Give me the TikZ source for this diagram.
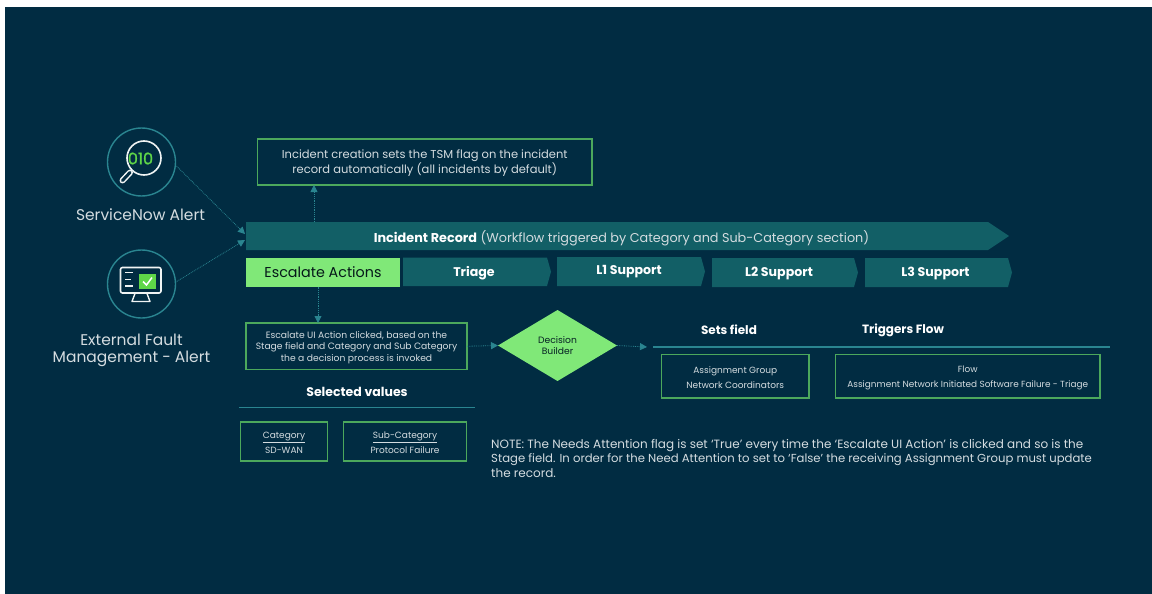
\documentclass[tikz,border=0pt]{standalone}
\usepackage{fontspec}
\setmainfont{Poppins}
\newfontfamily\binfont[FakeBold=1.2]{Poppins}
\usetikzlibrary{arrows.meta,calc,shapes.geometric}
\definecolor{bgdark}{HTML}{012C42}
\definecolor{tealfill}{HTML}{125F66}
\definecolor{tealline}{HTML}{2A8590}
\definecolor{limefill}{HTML}{80E878}
\definecolor{boxline}{HTML}{4CA85C}
\definecolor{txt}{HTML}{D4DCE0}
\definecolor{iconw}{HTML}{F0F4F4}
\definecolor{icong}{HTML}{5FD648}
\newcommand{\fsz}[2]{\fontsize{#1}{#2}\selectfont}
\newcommand{\chev}[8]{%
  \fill[tealfill] (#2,#4) -- (#3-#6,#4) -- (#3,{(#4+#5)/2}) -- (#3-#6,#5) -- (#2,#5) -- cycle;
  \node[boxnode,minimum width=#3-#2,minimum height=#5-#4,font=#7] (#1) at ({(#2+#3)/2},{(#4+#5)/2}) {#8};}
\newcommand{\gbox}[8]{%
  \node[boxnode,draw=boxline,line width=1.1pt,minimum width=#3-#2,minimum height=#5-#4,
    label={[boxtext,font=\fsz{#6}{#7}]center:{#8}}] (#1) at ({(#2+#3)/2},{(#4+#5)/2}) {};}
\tikzset{
  boxnode/.style={inner sep=0pt,outer sep=0pt,text=white},
  boxtext/.style={text=txt,align=center,inner sep=0pt,yshift=-1.2pt},
  link/.style={draw=tealline,line width=0.8pt,densely dotted,-{Triangle[width=7pt,length=7pt,fill=tealline]}},
  ring/.style={circle,draw=tealline,line width=1.4pt,minimum size=68pt,inner sep=0pt,outer sep=0pt},
  rule/.style={draw=tealline,line width=1.1pt},
  headtext/.style={text=white,font=\fsz{12}{14}\bfseries}
}
\begin{document}
\begin{tikzpicture}[x=1pt,y=-1pt]
\useasboundingbox (0,0) rectangle (1152,594);
\fill[white] (0,0) rectangle (1152,594);
\fill[bgdark] (5,7) rectangle (1152,594);

% left icons
\node[ring] (alert) at (141.5,162) {};
\node[ring] (fault) at (141.5,284) {};
\draw[iconw,line width=1.6pt] (144,158) circle (17);
\draw[iconw,line width=6pt,line cap=round] (130,172.5) -- (122.5,180.5);
\draw[bgdark,line width=3pt,line cap=round] (130,172.5) -- (122.5,180.5);
\node[text=icong,inner sep=0pt,font=\fsz{16}{16}\binfont] (bin) at (140.5,158.5) {010};
\draw[iconw,line width=1.6pt,rounded corners=2pt] (120.5,267.5) rectangle (161,293);
\fill[icong] (138.5,273.5) rectangle (156,289);
\draw[white,line width=1.5pt] (143,281.5) -- (146.5,285) -- (152,277.5);
\draw[iconw,line width=1.3pt] (125,272.5) -- (133,272.5) (125,279.5) -- (131,279.5) (125,286) -- (133,286);
\draw[iconw,line width=1.4pt,line join=round] (135,293.5) -- (132,301.5) -- (150,301.5) -- (147,293.5);
\node[text=txt,inner sep=0pt,font=\fsz{15.5}{17}] (alertlab) at (140.5,214.8) {ServiceNow Alert};
\node[text=txt,inner sep=0pt,align=center,font=\fsz{15.5}{17.5}] (faultlab) at (131.5,350.3) {External Fault\\Management - Alert};

% bars
\chev{record}{246}{1009}{222}{250}{21}{\fsz{12.8}{14}}{\hspace*{-12pt}\raisebox{-6pt}[0pt][0pt]{\textcolor{txt}{\textbf{\textcolor{white}{Incident Record}} (Workflow triggered by Category and Sub-Category section)}}}
\node[boxnode,fill=limefill,text=black!75!tealfill,minimum width=154pt,minimum height=29pt,font=\fsz{14.3}{16}] (esc) at (323,272) {Escalate Actions};
\chev{triage}{403}{551}{257.5}{286}{4}{\fsz{12.6}{14}\bfseries}{\hspace*{-6pt}\raisebox{-4.5pt}[0pt][0pt]{Triage}}
\chev{lone}{557}{705}{257}{286}{4}{\fsz{12.6}{14}\bfseries}{\hspace*{-4pt}\raisebox{-3pt}[0pt][0pt]{L1 Support}}
\chev{ltwo}{712}{858}{258}{287}{4}{\fsz{12.6}{14}\bfseries}{\hspace*{-12pt}\raisebox{-4pt}[0pt][0pt]{L2 Support}}
\chev{lthree}{865}{1012}{258}{287}{4}{\fsz{12.6}{14}\bfseries}{\hspace*{-6pt}\raisebox{-4pt}[0pt][0pt]{L3 Support}}

% boxes
\gbox{top}{257.5}{592}{139}{185}{11.5}{15}{Incident creation sets the TSM flag on the incident\\record automatically (all incidents by default)}
\gbox{ui}{246}{467}{323}{369.5}{9.2}{11.5}{Escalate UI Action clicked, based on the\\Stage field and Category and Sub Category\\the a decision process is invoked}
\node[diamond,fill=limefill,inner sep=0pt,outer sep=0pt,minimum width=119pt,minimum height=71pt,text=black!65!tealfill,align=center,font=\fsz{9.2}{11}] (dec) at (557.5,345.5) {Decision\\Builder};
\gbox{cat}{240.5}{327.5}{422}{461}{9}{15}{\underline{Category}\\SD-WAN}
\gbox{sub}{343.5}{466.5}{422}{461}{9}{15}{\underline{Sub-Category}\\Protocol Failure}
\gbox{grp}{661.5}{809}{354.5}{398}{9}{15}{Assignment Group\\Network Coordinators}
\gbox{flow}{835.5}{1100}{354.5}{398}{8.9}{15}{Flow\\Assignment Network Initiated Software Failure - Triage}

% headings
\node[headtext,inner sep=0pt,font=\fsz{12.5}{14}\bfseries] (selhead) at (357,392) {Selected values};
\coordinate (sell) at (239,407.5);
\coordinate (selr) at (475,407.5);
\draw[rule] (sell) -- (selr);
\node[headtext,inner sep=0pt] (setshead) at (729,330) {Sets field};
\node[headtext,inner sep=0pt] (trighead) at (903,330) {Triggers Flow};
\coordinate (setl) at (653,347);
\coordinate (setr) at (1110,347);
\draw[rule] (setl) -- (setr);

% note
\node[text=txt,anchor=north west,inner sep=0pt,align=left,font=\fsz{12}{14.5}] (note) at (491,439) {NOTE: The Needs Attention flag is set ‘True’ every time the ‘Escalate UI Action’ is clicked and so is the\\\fsz{11.65}{14.5}Stage field. In order for the Need Attention to set to ‘False’ the receiving Assignment Group must update\\the record.};

% connectors
\coordinate (recup) at ($(record.north west)+(68,0)$);
\coordinate (escdn) at ($(esc.south)+(-5,0)$);
\coordinate (decout) at ($(setl)+(-6,0)$);
\draw[link] (alert.-5) -- ($(record.west)+(-1,-2)$);
\draw[link] (fault.3) -- ($(record.west)+(-1,4)$);
\draw[link] (recup) -- (recup |- top.south);
\draw[link] (escdn) -- (escdn |- ui.north);
\draw[link] (ui.east) -- (dec.west);
\draw[link] (dec.east) -- (decout);
\end{tikzpicture}
\end{document}
